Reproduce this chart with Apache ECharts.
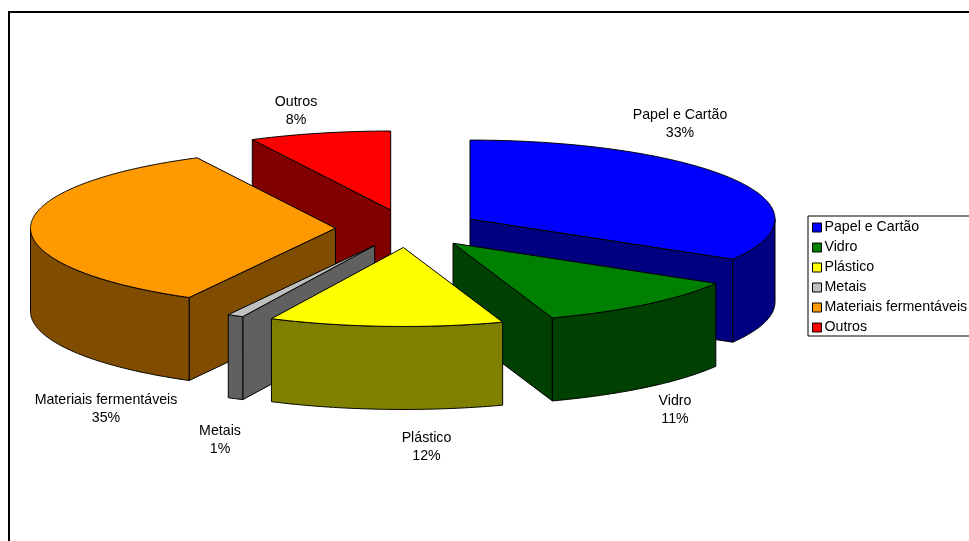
<!DOCTYPE html>
<html><head><meta charset="utf-8">
<style>html,body{margin:0;padding:0;background:#fff}#c{width:969px;height:541px}</style>
<script src="https://cdn.jsdelivr.net/npm/echarts@6/dist/echarts.min.js"></script>
</head><body><div id="c"></div>
<script>
const categories = ['Papel e Cartão','Vidro','Plástico','Metais','Materiais fermentáveis','Outros'];
const percents = [33.49, 11.25, 12.4, 0.85, 34.55, 7.5];
const topColors = ['#0000FF','#008000','#FFFF00','#C0C0C0','#FF9900','#FF0000'];
const wallColors = ['#000080','#004000','#808000','#606060','#804C00','#800000'];
const labelCenters = [[680,124],[675,410],[426.5,447],[220,440],[106,409],[296,111]];

const cx = 407.5, cy = 228.5, rx = 305, ry = 79, depth = 83, explodeX = 72, explodeY = 19;
const FONT = '"Liberation Sans", Arial, sans-serif';
const total = percents.reduce((a,b)=>a+b,0);
const rad = d => d*Math.PI/180;
let cum = 0;
const slices = percents.map((p,i)=>{
  const start = cum/total*360; cum += p; const end = cum/total*360;
  const mid = (start+end)/2;
  return {i, start, end, ax: cx+explodeX*Math.sin(rad(mid)), ay: cy-explodeY*Math.cos(rad(mid))};
});
const paintRank = slices.slice().sort((a,b)=>a.ay-b.ay).map(s=>s.i);

function rim(s, a){ return [s.ax+rx*Math.sin(rad(a)), s.ay-ry*Math.cos(rad(a))]; }
function arc(s, a, b){ const n=Math.max(2,Math.ceil(Math.abs(b-a))*2), o=[];
  for(let k=0;k<=n;k++) o.push(rim(s,a+(b-a)*k/n)); return o; }
const down = pts => pts.map(p=>[p[0],p[1]+depth]);
function poly(points, fill){ return {type:'polygon', shape:{points},
  style:{fill, stroke:'#000', lineWidth:1, lineJoin:'round'}}; }

function renderSlice(params, api){
  const idx = api.value(0), s = slices[idx], children = [];
  const face = a => { const e = rim(s,a); return poly([[s.ax,s.ay],e,[e[0],e[1]+depth],[s.ax,s.ay+depth]], wallColors[idx]); };
  if (Math.sin(rad(s.start)) < -1e-6) children.push(face(s.start));
  if (Math.sin(rad(s.end)) > 1e-6) children.push(face(s.end));
  const a0 = Math.max(s.start,90), a1 = Math.min(s.end,270);
  if (a1 > a0) { const t = arc(s,a0,a1); children.push(poly(t.concat(down(t).reverse()), wallColors[idx])); }
  children.push(poly([[s.ax,s.ay]].concat(arc(s,s.start,s.end)), topColors[idx]));
  children.push({type:'text', style:{
    x: labelCenters[idx][0], y: labelCenters[idx][1],
    text: categories[idx]+'\n'+Math.round(percents[idx])+'%',
    align:'center', verticalAlign:'middle', font:'14.2px '+FONT, lineHeight:18, fill:'#000'}});
  return {type:'group', children};
}

const chart = echarts.init(document.getElementById('c'), null, {renderer:'canvas'});
chart.setOption({
  animation:false,
  backgroundColor:'#fff',
  graphic:[{type:'rect', z:0, shape:{x:9,y:12,width:1000,height:600},
    style:{fill:'none', stroke:'#000', lineWidth:2}, silent:true}],
  legend:{
    data: categories, left:808, top:216, orient:'vertical', icon:'rect',
    itemWidth:9, itemHeight:9, itemGap:5, padding:[4,5,1,4], selectedMode:false,
    borderColor:'#000', borderWidth:1, borderRadius:0, backgroundColor:'#fff',
    textStyle:{fontFamily:'Liberation Sans', fontSize:14.2, color:'#000', padding:[2,0,0,-2], height:13, lineHeight:15},
    itemStyle:{borderColor:'#000', borderWidth:1}
  },
  series: paintRank.map((idx,rank)=>({
    type:'custom', name:categories[idx], coordinateSystem:'none', z:2+rank, silent:true,
    itemStyle:{color:topColors[idx]},
    encode:{}, data:[[idx, percents[idx]]], renderItem:renderSlice
  }))
});
</script></body></html>
